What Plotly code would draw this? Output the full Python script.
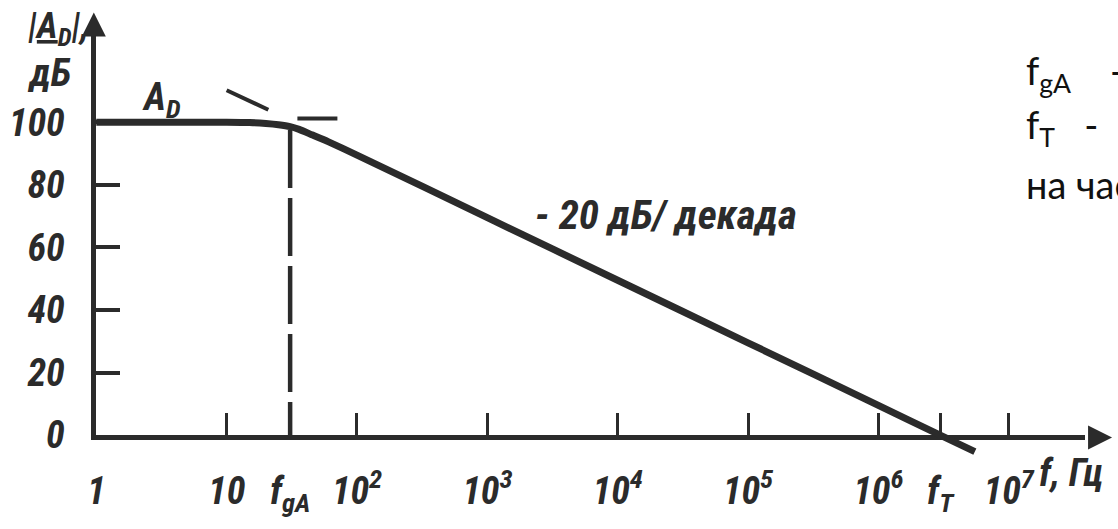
import plotly.graph_objects as go

W, H = 1118, 529

# ---------------- data ----------------
freq_hz = [1, 10, 15, 20, 25, 30.7, 36, 45, 60, 100, 1e3, 1e4, 1e5, 1e6, 2.98e6, 5.5e6]
gain_db = [100, 100, 99.9, 99.6, 99.2, 98.6, 97.7, 96.0, 93.8, 89.5, 69.5, 49.5, 29.5, 9.5, 0, -5.3]

asym_freq_hz = [10, 29.1, 80]
asym_gain_db = [110.2, 101.2, 101.2]

f_gA = 30.7
f_T = 2.98e6
cutoff_freq_hz = [f_gA, f_gA]
cutoff_gain_db = [97.5, 0]

y_tick_vals = [0, 20, 40, 60, 80, 100]
y_tick_text = ["0", "20", "40", "60", "80", "100"]
x_tick_vals = [1, 10, f_gA, 1e2, 1e3, 1e4, 1e5, 1e6, f_T, 1e7]
x_tick_text = ["1", "10", "f<sub>gA</sub>", "10<sup>2</sup>", "10<sup>3</sup>",
               "10<sup>4</sup>", "10<sup>5</sup>", "10<sup>6</sup>", "f<sub>T</sub>",
               "10<sup>7</sup>"]

# ---------------- geometry ----------------
X0_PX = 88.0        # pixel of f = 1 Hz
PX_PER_DEC = 131.4
Y0_PX = 454.0       # pixel of 0 dB
PX_PER_DB = 3.265
AXIS_LW = 5
R_PX = 1085         # right end of x-axis line
T_PX = 36           # top end of y-axis line


def px_to_log(px):
    return (px - X0_PX) / PX_PER_DEC


def py_to_db(py):
    return (Y0_PX - py) / PX_PER_DB


INK = "#2b2b2b"
FONT_FIG = ("Roboto Condensed, Noto Sans Condensed, Liberation Sans Narrow, "
            "Liberation Sans, sans-serif")
FONT_TXT = "Lato, Noto Sans, sans-serif"

fig = go.Figure()

# vertical dashed line at f_gA (on the visible axes)
fig.add_trace(go.Scatter(x=cutoff_freq_hz, y=cutoff_gain_db, mode="lines", xaxis="x", yaxis="y",
                         line=dict(color=INK, width=4.5, dash="58px,10px"), hoverinfo="skip"))
# main response curve
fig.add_trace(go.Scatter(x=freq_hz, y=gain_db, mode="lines", xaxis="x2", yaxis="y2",
                         line=dict(color=INK, width=7, shape="spline", smoothing=0.5),
                         hoverinfo="skip"))
# asymptotes (dashed)
fig.add_trace(go.Scatter(x=asym_freq_hz, y=asym_gain_db, mode="lines", xaxis="x2", yaxis="y2",
                         line=dict(color=INK, width=4, dash="46px,31px,40px,300px"),
                         hoverinfo="skip"))

# axis arrowheads
fig.add_trace(go.Scatter(x=[10 ** px_to_log(X0_PX - AXIS_LW / 2)], y=[py_to_db(13)],
                         mode="markers", xaxis="x2", yaxis="y2", cliponaxis=False,
                         marker=dict(symbol="arrow-up", size=24, color=INK, line=dict(width=0)),
                         hoverinfo="skip"))
fig.add_trace(go.Scatter(x=[10 ** px_to_log(1112)], y=[py_to_db(Y0_PX + AXIS_LW / 2)],
                         mode="markers", xaxis="x2", yaxis="y2", cliponaxis=False,
                         marker=dict(symbol="arrow-right", size=24, color=INK, line=dict(width=0)),
                         hoverinfo="skip"))

tick_font = dict(family=FONT_FIG, size=38, color=INK, weight="bold", style="italic")

fig.update_layout(
    width=W, height=H, margin=dict(l=0, r=0, t=0, b=0),
    paper_bgcolor="white", plot_bgcolor="rgba(0,0,0,0)", showlegend=False,
    xaxis=dict(type="log", domain=[X0_PX / W, R_PX / W], range=[0, px_to_log(R_PX)],
               anchor="y", showgrid=False, zeroline=False, showline=True,
               linecolor=INK, linewidth=AXIS_LW, ticks="inside", ticklen=22,
               tickwidth=3, tickcolor=INK, tickvals=x_tick_vals, ticktext=x_tick_text,
               tickfont=tick_font, ticklabelstandoff=18, fixedrange=True),
    yaxis=dict(domain=[(H - Y0_PX) / H, (H - T_PX) / H], range=[0, py_to_db(T_PX)],
               anchor="x", showgrid=False, zeroline=False, showline=True,
               linecolor=INK, linewidth=AXIS_LW, ticks="inside", ticklen=24,
               tickwidth=3.5, tickcolor=INK, tickvals=y_tick_vals, ticktext=y_tick_text,
               tickfont=tick_font, ticklabelstandoff=19, fixedrange=True),
    xaxis2=dict(type="log", domain=[0, 1], range=[px_to_log(0), px_to_log(W)],
                anchor="y2", visible=False, fixedrange=True),
    yaxis2=dict(domain=[0, 1], range=[py_to_db(H), py_to_db(0)], anchor="x2", visible=False,
                fixedrange=True),
)


def ann(text, px, py, size, family=FONT_FIG, bold=True, italic=True, xanchor="center",
        color=INK):
    fig.add_annotation(text=text, xref="paper", yref="paper", x=px / W, y=1 - py / H,
                       xanchor=xanchor, yanchor="middle", showarrow=False,
                       font=dict(family=family, size=size, color=color,
                                 weight="bold" if bold else "normal",
                                 style="italic" if italic else "normal"))


ann("|<u>A</u><sub>D</sub>|,", 50, 30, 36)
ann("дБ", 40, 76, 38)
ann("A<sub>D</sub>", 154, 104, 38)
ann("- 20 дБ/ декада", 662, 224, 41)
ann("f, Гц", 1036, 494, 38, xanchor="left")

ann("f<sub>gA</sub>\u00a0\u00a0\u00a0\u00a0-", 1023, 76, 38, family=FONT_TXT, bold=False,
    italic=False, xanchor="left", color="#111111")
ann("f<sub>T</sub>\u00a0\u00a0\u00a0-", 1023, 133, 38, family=FONT_TXT, bold=False,
    italic=False, xanchor="left", color="#111111")
ann("на частоте", 1023, 192, 38, family=FONT_TXT, bold=False,
    italic=False, xanchor="left", color="#111111")

fig.write_html("out.html", config={"displayModeBar": False},
               post_script="document.body.style.margin='0';")
